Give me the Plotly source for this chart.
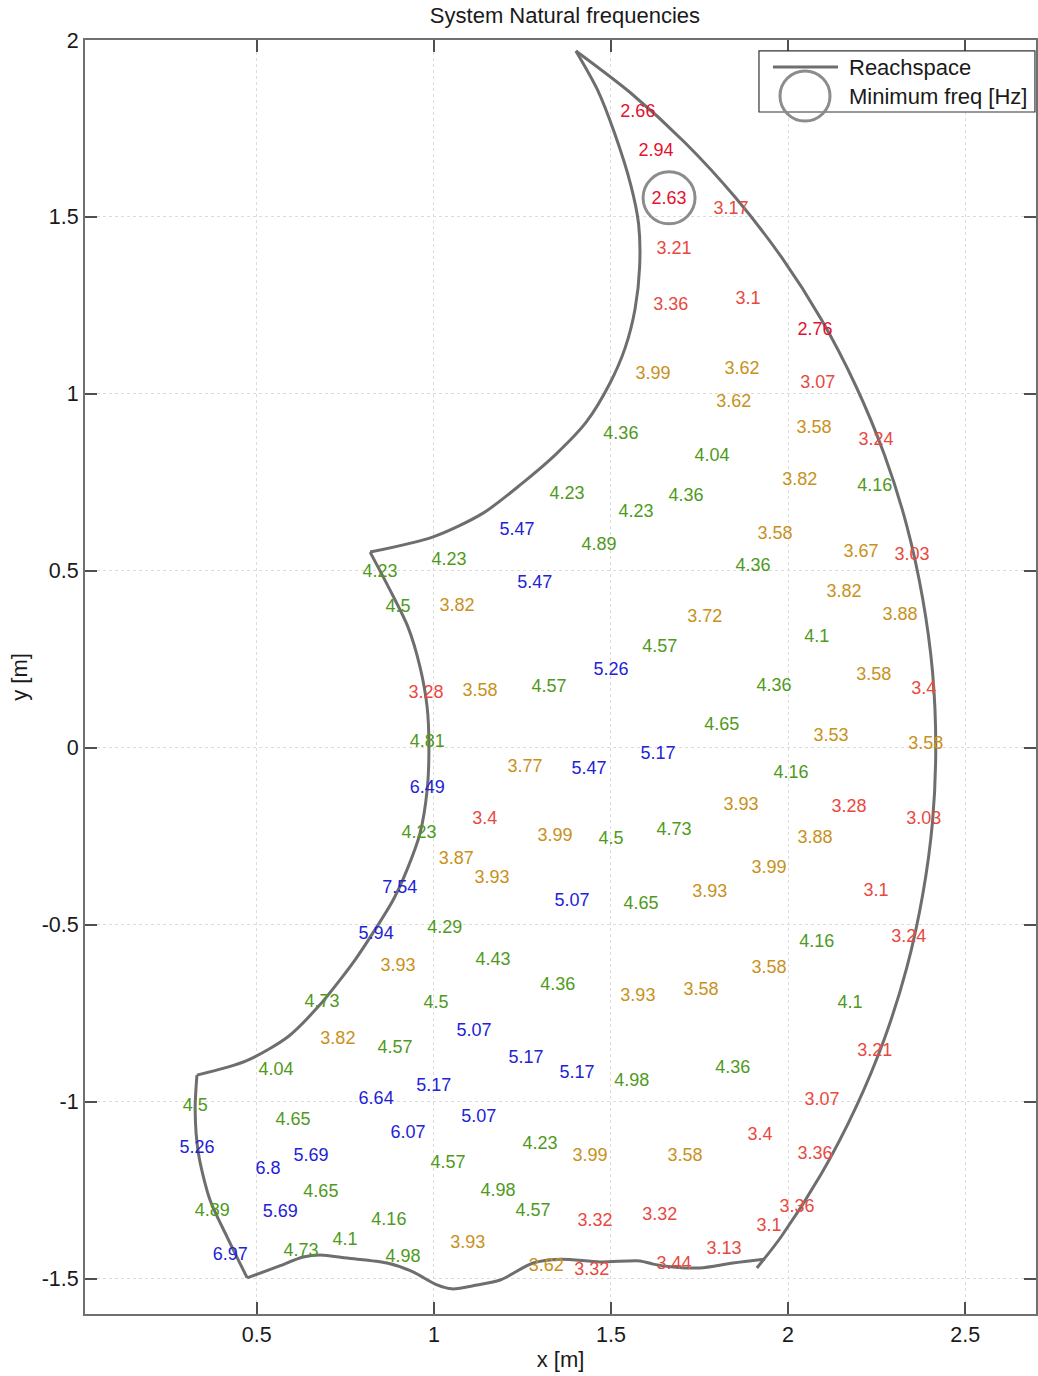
import plotly.graph_objects as go

# ---------------- data ----------------
freq_vals = [2.66, 2.94, 2.63, 3.17, 3.21, 3.36, 3.1, 2.76, 3.99, 3.62,
             3.07, 3.62, 3.58, 3.24, 4.36, 4.04, 3.82, 4.16, 4.23, 4.36,
             4.23, 5.47, 4.89, 3.58, 3.67, 3.03, 4.23, 4.36, 4.23, 5.47,
             3.82, 4.5, 3.82, 3.72, 3.88, 4.1, 4.57, 5.26, 3.58, 4.36,
             3.4, 3.28, 3.58, 4.57, 4.65, 3.53, 4.81, 3.58, 5.17, 3.77,
             5.47, 4.16, 6.49, 3.93, 3.28, 3.4, 3.03, 4.23, 3.99, 4.5,
             4.73, 3.88, 3.87, 3.93, 3.99, 7.54, 3.93, 3.1, 5.07, 4.65,
             4.29, 5.94, 3.24, 4.16, 3.93, 4.43, 3.58, 4.36, 3.93, 3.58,
             4.73, 4.5, 4.1, 3.82, 4.57, 5.07, 5.17, 3.21, 4.04, 5.17,
             4.98, 4.36, 6.64, 5.17, 3.07, 4.5, 4.65, 5.07, 6.07, 4.23,
             3.4, 5.26, 5.69, 6.8, 4.57, 3.99, 3.58, 3.36, 4.65, 4.98,
             4.89, 5.69, 4.16, 4.57, 3.32, 3.32, 3.36, 3.1, 4.1, 3.93,
             6.97, 4.73, 4.98, 3.13, 3.62, 3.32, 3.44]

freq_x = [1.576, 1.627, 1.664, 1.839, 1.678, 1.669, 1.887, 2.076, 1.619, 1.870,
          2.084, 1.847, 2.073, 2.248, 1.528, 1.785, 2.033, 2.245, 1.376, 1.712,
          1.571, 1.235, 1.466, 1.963, 2.206, 2.350, 1.043, 1.901, 0.848, 1.285,
          2.158, 0.899, 1.065, 1.765, 2.316, 2.081, 1.638, 1.500, 2.242, 1.960,
          2.383, 0.978, 1.130, 1.325, 1.813, 2.121, 0.981, 2.389, 1.633, 1.257,
          1.438, 2.008, 0.981, 1.867, 2.172, 1.144, 2.383, 0.958, 1.342, 1.500,
          1.678, 2.076, 1.063, 1.164, 1.946, 0.904, 1.779, 2.248, 1.390, 1.585,
          1.031, 0.837, 2.341, 2.081, 0.899, 1.167, 1.946, 1.350, 1.576, 1.754,
          0.684, 1.006, 2.175, 0.729, 0.890, 1.113, 1.260, 2.245, 0.554, 1.404,
          1.559, 1.844, 0.837, 1.000, 2.096, 0.326, 0.602, 1.127, 0.927, 1.300,
          1.921, 0.331, 0.653, 0.532, 1.040, 1.441, 1.709, 2.076, 0.681, 1.181,
          0.374, 0.566, 0.873, 1.280, 1.455, 1.638, 2.025, 1.946, 0.749, 1.096,
          0.425, 0.625, 0.913, 1.819, 1.317, 1.446, 1.678]

freq_y = [1.796, 1.686, 1.548, 1.522, 1.409, 1.251, 1.268, 1.180, 1.056, 1.070,
          1.030, 0.977, 0.903, 0.869, 0.884, 0.824, 0.754, 0.739, 0.717, 0.711,
          0.666, 0.615, 0.573, 0.604, 0.553, 0.544, 0.530, 0.511, 0.494, 0.465,
          0.440, 0.395, 0.400, 0.369, 0.375, 0.313, 0.282, 0.217, 0.203, 0.174,
          0.166, 0.152, 0.160, 0.171, 0.064, 0.033, 0.016, 0.010, -0.018, -0.057,
          -0.060, -0.072, -0.114, -0.162, -0.170, -0.204, -0.204, -0.241, -0.250, -0.258,
          -0.233, -0.255, -0.317, -0.368, -0.340, -0.399, -0.408, -0.405, -0.433, -0.442,
          -0.512, -0.529, -0.535, -0.549, -0.617, -0.600, -0.625, -0.671, -0.702, -0.685,
          -0.719, -0.724, -0.724, -0.823, -0.849, -0.803, -0.877, -0.857, -0.911, -0.919,
          -0.942, -0.905, -0.993, -0.956, -0.998, -1.013, -1.052, -1.046, -1.089, -1.120,
          -1.097, -1.131, -1.154, -1.191, -1.176, -1.154, -1.154, -1.148, -1.256, -1.253,
          -1.309, -1.312, -1.335, -1.309, -1.340, -1.321, -1.298, -1.354, -1.391, -1.400,
          -1.434, -1.422, -1.439, -1.417, -1.465, -1.476, -1.459]

# Minimum-frequency marker position (circle drawn round the lowest value)
min_x = [1.664]
min_y = [1.554]

# Reachspace boundary, piece by piece
outer_x = [1.912, 1.981, 2.094, 2.191, 2.272, 2.335, 2.380, 2.408, 2.417, 2.408,
           2.380, 2.335, 2.272, 2.191, 2.094, 1.981, 1.852, 1.710, 1.555, 1.401]
outer_y = [-1.470, -1.381, -1.204, -1.017, -0.822, -0.622, -0.416, -0.207, 0.003, 0.213,
           0.422, 0.628, 0.828, 1.023, 1.210, 1.387, 1.554, 1.709, 1.851, 1.969]

inner_x = [1.401, 1.462, 1.510, 1.556, 1.578, 1.581, 1.568, 1.540, 1.497, 1.430,
           1.345, 1.250, 1.139, 0.998, 0.820]
inner_y = [1.969, 1.859, 1.737, 1.590, 1.480, 1.360, 1.240, 1.130, 1.030, 0.920,
           0.830, 0.748, 0.663, 0.596, 0.553]

left_x = [0.820, 0.876, 0.927, 0.961, 0.981, 0.986, 0.981, 0.961, 0.924, 0.885,
          0.828, 0.777, 0.735, 0.675, 0.590, 0.470, 0.331]
left_y = [0.553, 0.446, 0.341, 0.228, 0.115, 0.002, -0.119, -0.241, -0.345, -0.430,
          -0.523, -0.600, -0.656, -0.730, -0.815, -0.885, -0.925]

edge_x = [0.331, 0.326, 0.335, 0.368, 0.416, 0.473]
edge_y = [-0.925, -1.023, -1.145, -1.278, -1.382, -1.498]

bottom_x = [0.473, 0.557, 0.631, 0.679, 0.755, 0.868, 0.941, 1.009, 1.051, 1.122,
            1.187, 1.280, 1.356, 1.469, 1.582, 1.619, 1.675, 1.751, 1.844, 1.935]
bottom_y = [-1.498, -1.467, -1.439, -1.433, -1.442, -1.456, -1.481, -1.518, -1.529, -1.518,
            -1.504, -1.456, -1.445, -1.453, -1.450, -1.459, -1.467, -1.470, -1.456, -1.445]

x_ticks = [0.5, 1, 1.5, 2, 2.5]
x_ticklabels = ["0.5", "1", "1.5", "2", "2.5"]
y_ticks = [-1.5, -1, -0.5, 0, 0.5, 1, 1.5, 2]
y_ticklabels = ["-1.5", "-1", "-0.5", "0", "0.5", "1", "1.5", "2"]

FONT = "Liberation Sans, Arial, Helvetica, sans-serif"
LINE_GREY = "#6e6e6e"
CIRCLE_GREY = "#8c8c8c"


def freq_color(v):
    if v < 3.0:
        return "#e3122f"
    if v < 3.5:
        return "#e8493f"
    if v < 4.0:
        return "#c8911c"
    if v < 5.0:
        return "#4f9a1c"
    return "#2323d6"


label_colors = [freq_color(v) for v in freq_vals]
label_text = [f"{v:g}" for v in freq_vals]

fig = go.Figure()

segments = [(outer_x, outer_y, "spline"), (inner_x, inner_y, "spline"),
            (left_x, left_y, "spline"), (edge_x, edge_y, "spline"),
            (bottom_x, bottom_y, "spline")]
for i, (sx, sy, shp) in enumerate(segments):
    fig.add_trace(go.Scatter(
        x=sx, y=sy, mode="lines", name="Reachspace", legendgroup="reach",
        line=dict(color=LINE_GREY, width=3, shape=shp, smoothing=0.8),
        showlegend=False, hoverinfo="skip"))

fig.add_trace(go.Scatter(
    x=freq_x, y=freq_y, mode="text", text=label_text,
    textposition="middle center",
    textfont=dict(family=FONT, size=18, color=label_colors),
    showlegend=False, hoverinfo="text"))

fig.add_trace(go.Scatter(
    x=min_x, y=min_y, mode="markers", name="Minimum freq [Hz]",
    marker=dict(symbol="circle-open", size=52, color=CIRCLE_GREY,
                line=dict(width=3, color=CIRCLE_GREY)),
    showlegend=False, hoverinfo="skip"))

axis_common = dict(
    showline=True, linecolor="#707070", linewidth=2, mirror="ticks",
    ticks="inside", ticklen=12, tickwidth=1.5, tickcolor="#505050",
    showgrid=True, gridcolor="#dcdcdc", gridwidth=1, griddash="dot",
    zeroline=False, tickfont=dict(family=FONT, size=21.5, color="#1a1a1a"),
    automargin=False,
)

fig.update_layout(
    width=1038, height=1376,
    margin=dict(l=85, r=2, t=40, b=62),
    paper_bgcolor="white", plot_bgcolor="white",
    font=dict(family=FONT, color="#1a1a1a"),
    title=dict(text="System Natural frequencies", font=dict(size=22, color="#1a1a1a"),
               xref="container", x=0.5443, xanchor="center",
               yref="container", y=1 - 15 / 1376, yanchor="middle"),
    xaxis=dict(range=[0.015, 2.700], tickvals=x_ticks, ticktext=x_ticklabels,
               title=dict(text="x [m]", font=dict(size=22), standoff=6),
               **axis_common),
    yaxis=dict(range=[-1.6, 2.0], tickvals=y_ticks, ticktext=y_ticklabels,
               title=dict(text="y [m]", font=dict(size=22), standoff=8),
               **axis_common),
    showlegend=False,
)

# legend drawn as a framed box with a line sample and a circle sample
fig.add_shape(type="rect", xref="paper", yref="paper",
              x0=0.7087, x1=0.9989, y0=0.9435, y1=0.9914,
              line=dict(color="#333333", width=1.2), fillcolor="white", layer="above")
fig.add_shape(type="line", xref="paper", yref="paper",
              x0=0.7234, x1=0.7918, y0=0.9788, y1=0.9788,
              line=dict(color=LINE_GREY, width=3), layer="above")
fig.add_shape(type="circle", xref="paper", yref="paper",
              x0=0.7308, x1=0.7834, y0=0.9364, y1=0.9757,
              line=dict(color=CIRCLE_GREY, width=3), layer="above")
fig.add_annotation(xref="paper", yref="paper", x=0.8013, y=0.9788,
                   text="Reachspace", showarrow=False, xanchor="left", yanchor="middle",
                   font=dict(family=FONT, size=22, color="#1a1a1a"))
fig.add_annotation(xref="paper", yref="paper", x=0.8013, y=0.9560,
                   text="Minimum freq [Hz]", showarrow=False, xanchor="left", yanchor="middle",
                   font=dict(family=FONT, size=22, color="#1a1a1a"))

fig.write_html("out.html")
